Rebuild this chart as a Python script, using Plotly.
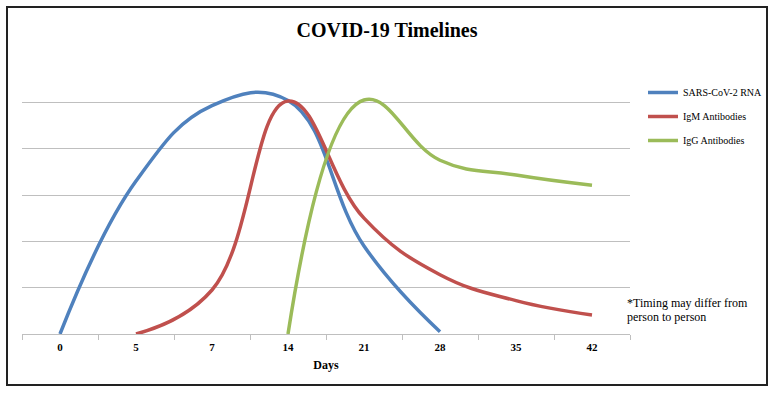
import plotly.graph_objects as go

days = ["0", "5", "7", "14", "21", "28", "35", "42"]
rna = [0, 3.3, 4.93, 5.04, 1.9, 0.05, None, None]
igm = [None, 0, 0.95, 5.03, 2.5, 1.28, 0.72, 0.41]
igg = [None, None, None, 0, 5.05, 3.75, 3.43, 3.21]

series = [
    ("SARS-CoV-2 RNA", rna, "#4F81BD"),
    ("IgM Antibodies", igm, "#C0504D"),
    ("IgG Antibodies", igg, "#9BBB59"),
]

SERIF = "Liberation Serif"

fig = go.Figure()
for i, (name, vals, color) in enumerate(series):
    fig.add_trace(go.Scatter(
        x=days, y=vals, name=name, mode="lines",
        line=dict(color=color, width=3.5, shape="spline", smoothing=1.2),
        legendgroup=f"g{i}",
    ))

W, H = 775, 395
L, R, T, B = 22, 145, 55, 61
pw, ph = W - L - R, H - T - B
unit = 278 / 6.0
ymax = ph / unit

def px(x):
    return (x - L) / pw

def py(y):
    return (H - B - y) / ph

note_font = dict(family=SERIF, size=12, color="#000000")

fig.update_layout(
    width=W, height=H,
    margin=dict(l=L, r=R, t=T, b=B, autoexpand=False),
    paper_bgcolor="white", plot_bgcolor="white",
    title=dict(text="<b>COVID-19 Timelines</b>", x=px(387), xanchor="center",
               xref="paper", y=1 - 30 / H, yanchor="middle",
               font=dict(family=SERIF, size=20, color="#000000")),
    showlegend=True,
    legend=dict(x=px(643), xanchor="left", y=py(78), yanchor="top",
                font=dict(family=SERIF, size=10, color="#000000"),
                tracegroupgap=5, bgcolor="rgba(0,0,0,0)"),
    xaxis=dict(type="category", categoryorder="array", categoryarray=days,
               range=[-0.5, 7.5],
               showgrid=False, showline=True, linecolor="#BFBFBF", linewidth=1,
               ticks="outside", tickson="boundaries", ticklen=5,
               tickcolor="#BFBFBF", tickwidth=1, ticklabelstandoff=3,
               tickfont=dict(family=SERIF, size=11, color="#000000", weight="bold"),
               title=dict(text="<b>Days</b>", standoff=8,
                          font=dict(family=SERIF, size=12, color="#000000"))),
    yaxis=dict(range=[0, ymax], dtick=1, showgrid=True, gridcolor="#BFBFBF",
               gridwidth=1, showticklabels=False, zeroline=False,
               showline=False),
    shapes=[dict(type="rect", xref="paper", yref="paper",
                 x0=px(7), x1=px(767), y0=py(385), y1=py(7),
                 line=dict(color="#222222", width=2), fillcolor="rgba(0,0,0,0)")],
    annotations=[
        dict(text="*Timing may differ from", xref="paper", yref="paper",
             x=px(625), y=py(303), xanchor="left", yanchor="middle",
             showarrow=False, font=note_font),
        dict(text="person to person", xref="paper", yref="paper",
             x=px(625), y=py(317), xanchor="left", yanchor="middle",
             showarrow=False, font=note_font),
    ],
)

fig.write_html("out.html", config={"displayModeBar": False},
               post_script="document.body.style.margin='0';document.body.style.padding='0';")
